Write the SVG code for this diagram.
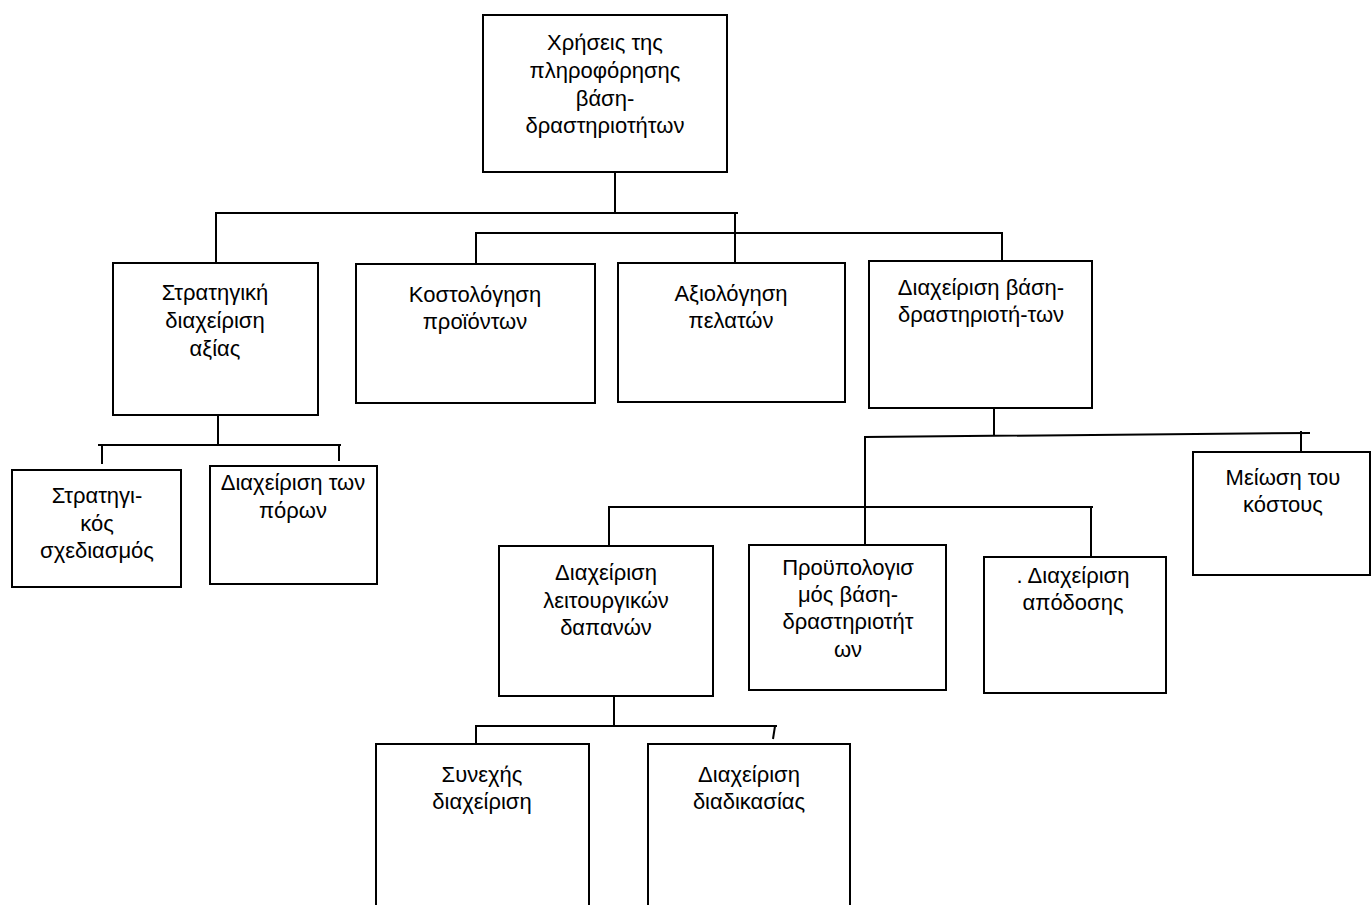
<svg xmlns="http://www.w3.org/2000/svg" width="1372" height="905" viewBox="0 0 1372 905">
  <style>
    .box { fill: #ffffff; stroke: #000000; stroke-width: 2; }
    .lbl { font-family: "Liberation Sans", Arial, sans-serif; font-size: 22px; fill: #000000; text-anchor: middle; }
    .wire { fill: none; stroke: #000000; stroke-width: 2; }
  </style>
  <rect width="1372" height="905" fill="#ffffff"/>

  <!-- connectors -->
  <g id="connectors" class="wire">
    <path d="M615 172 V213"/>
    <path d="M216 263 V213 H738"/>
    <path d="M735 213 V263"/>
    <path d="M476 264 V233 H1002 V261"/>
    <path d="M218 415 V445"/>
    <path d="M98 445 H341"/>
    <path d="M102 445 V464"/>
    <path d="M339 445 V461"/>
    <path d="M994 408 V436"/>
    <path d="M865 545 V437 L1310 433"/>
    <path d="M1301 431 V452"/>
    <path d="M609 546 V507 H1093"/>
    <path d="M1091 507 V557"/>
    <path d="M614 696 V726"/>
    <path d="M476 744 V726 H777"/>
    <path d="M775 726 L773 739"/>
  </g>

  <!-- root -->
  <g id="n-uses">
    <rect class="box" x="483" y="15" width="244" height="157"/>
    <text class="lbl" x="605" y="50">Χρήσεις της</text>
    <text class="lbl" x="605" y="78">πληροφόρησης</text>
    <text class="lbl" x="605" y="106">βάση-</text>
    <text class="lbl" x="605" y="133">δραστηριοτήτων</text>
  </g>

  <!-- second level -->
  <g id="n-strategic-value">
    <rect class="box" x="113" y="263" width="205" height="152"/>
    <text class="lbl" x="215" y="300">Στρατηγική</text>
    <text class="lbl" x="215" y="328">διαχείριση</text>
    <text class="lbl" x="215" y="356">αξίας</text>
  </g>
  <g id="n-product-costing">
    <rect class="box" x="356" y="264" width="239" height="139"/>
    <text class="lbl" x="475" y="302">Κοστολόγηση</text>
    <text class="lbl" x="475" y="329">προϊόντων</text>
  </g>
  <g id="n-customer-eval">
    <rect class="box" x="618" y="263" width="227" height="139"/>
    <text class="lbl" x="731" y="301">Αξιολόγηση</text>
    <text class="lbl" x="731" y="328">πελατών</text>
  </g>
  <g id="n-abm">
    <rect class="box" x="869" y="261" width="223" height="147"/>
    <text class="lbl" x="981" y="295">Διαχείριση βάση-</text>
    <text class="lbl" x="981" y="322">δραστηριοτή-των</text>
  </g>

  <!-- under strategic value management -->
  <g id="n-strategic-planning">
    <rect class="box" x="12" y="470" width="169" height="117"/>
    <text class="lbl" x="97" y="503">Στρατηγι-</text>
    <text class="lbl" x="97" y="531">κός</text>
    <text class="lbl" x="97" y="558">σχεδιασμός</text>
  </g>
  <g id="n-resources">
    <rect class="box" x="210" y="466" width="167" height="118"/>
    <text class="lbl" x="293" y="490">Διαχείριση των</text>
    <text class="lbl" x="293" y="518">πόρων</text>
  </g>

  <!-- under activity-based management -->
  <g id="n-cost-reduction">
    <rect class="box" x="1193" y="452" width="177" height="123"/>
    <text class="lbl" x="1283" y="485">Μείωση του</text>
    <text class="lbl" x="1283" y="512">κόστους</text>
  </g>
  <g id="n-opex">
    <rect class="box" x="499" y="546" width="214" height="150"/>
    <text class="lbl" x="606" y="580">Διαχείριση</text>
    <text class="lbl" x="606" y="608">λειτουργικών</text>
    <text class="lbl" x="606" y="635">δαπανών</text>
  </g>
  <g id="n-abb">
    <rect class="box" x="749" y="545" width="197" height="145"/>
    <text class="lbl" x="848" y="575">Προϋπολογισ</text>
    <text class="lbl" x="848" y="602">μός βάση-</text>
    <text class="lbl" x="848" y="629">δραστηριοτήτ</text>
    <text class="lbl" x="848" y="657">ων</text>
  </g>
  <g id="n-performance">
    <rect class="box" x="984" y="557" width="182" height="136"/>
    <text class="lbl" x="1073" y="583">. Διαχείριση</text>
    <text class="lbl" x="1073" y="610">απόδοσης</text>
  </g>

  <!-- under operating expense management -->
  <g id="n-continuous">
    <rect class="box" x="376" y="744" width="213" height="200"/>
    <text class="lbl" x="482" y="782">Συνεχής</text>
    <text class="lbl" x="482" y="809">διαχείριση</text>
  </g>
  <g id="n-process">
    <rect class="box" x="648" y="744" width="202" height="200"/>
    <text class="lbl" x="749" y="782">Διαχείριση</text>
    <text class="lbl" x="749" y="809">διαδικασίας</text>
  </g>
</svg>
